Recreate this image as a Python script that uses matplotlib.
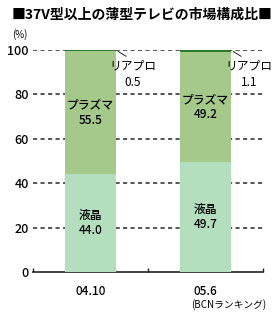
import matplotlib
matplotlib.use("Agg")
import matplotlib.pyplot as plt

plt.rcParams['font.family'] = ['Noto Sans CJK JP', 'DejaVu Sans']

categories = ["04.10", "05.6"]
lcd = [44.0, 49.7]
plasma = [55.5, 49.2]
rearpro = [0.5, 1.1]
yticks = [0, 20, 40, 60, 80, 100]

fig = plt.figure(figsize=(2.8, 3.17), dpi=100)
W, H = 280, 317
rect = [33 / W, 1 - 272 / H, 230 / W, 222 / H]

# background axes holding the dashed gridlines
axg = fig.add_axes(rect, zorder=0)
axg.set_xlim(-0.5, 1.5)
axg.set_ylim(0, 100)
axg.axis('off')
for yv in yticks[1:]:
    axg.axhline(yv, color="#3a3a3a", linestyle=(0, (2.5, 2)), linewidth=1.2)

ax = fig.add_axes(rect, zorder=1)
ax.patch.set_visible(False)

x = list(range(len(categories)))
bw = 0.44
c_lcd = "#b4dfbe"
c_pla = "#a5c98b"
c_rp = "#2f7a2a"

ax.bar(x, lcd, width=bw, color=c_lcd, zorder=3)
bottoms2 = lcd
ax.bar(x, plasma, width=bw, bottom=bottoms2, color=c_pla, zorder=3)
bottoms3 = [a + b for a, b in zip(lcd, plasma)]
ax.bar(x, rearpro, width=bw, bottom=bottoms3, color=c_rp, zorder=3)

ax.set_xlim(-0.5, 1.5)
ax.set_ylim(0, 100)
ax.set_yticks(yticks)
ax.set_yticklabels([str(v) for v in yticks], fontsize=9, fontweight='medium')
ax.tick_params(axis='y', length=0, pad=3)
ax.set_xticks([-0.5, 0.5, 1.5])
ax.set_xticklabels([])
ax.tick_params(axis='x', direction='in', length=3, width=1, color='#222222')
for i, c in enumerate(categories):
    ax.text(i, -6, c, ha='center', va='top', fontsize=8.5, fontweight='medium')
for s in ['left', 'right', 'top']:
    ax.spines[s].set_visible(False)
ax.spines['bottom'].set_linewidth(1.2)
ax.spines['bottom'].set_color('#222222')

for i in x:
    ax.text(i, lcd[i] / 2, f"液晶\n{lcd[i]:.1f}", ha='center', va='center',
            fontsize=8.5, fontweight='medium', linespacing=1.2, zorder=5)
    ax.text(i, lcd[i] + plasma[i] / 2, f"プラズマ\n{plasma[i]:.1f}", ha='center',
            va='center', fontsize=8.5, fontweight='medium', linespacing=1.2, zorder=5)

# rear-pro labels with leader lines
rp_text_x = [0.37, 1.38]
for i in x:
    top = lcd[i] + plasma[i] + rearpro[i]
    ax.annotate("", xy=(i + bw / 2, top), xytext=(i + bw / 2 + 0.11, top - 3.5),
                arrowprops=dict(arrowstyle='-', color='#222222', lw=0.7),
                annotation_clip=False)
    ax.text(rp_text_x[i], 93, "リアプロ", ha='center', va='center', fontsize=8.5, zorder=5)
    ax.text(rp_text_x[i], 85.5, f"{rearpro[i]:.1f}", ha='center', va='center', fontsize=8.5, zorder=5)

fig.text(142 / W, 1 - 15 / H, "■37V型以上の薄型テレビの市場構成比■", ha='center', va='center',
         fontsize=10, fontweight='bold')
fig.text(12 / W, 1 - 35 / H, "(%)", ha='left', va='center', fontsize=7)
fig.text(266 / W, 1 - 305 / H, "(BCNランキング)", ha='right', va='center', fontsize=7)

fig.savefig("out.png", dpi=100)
